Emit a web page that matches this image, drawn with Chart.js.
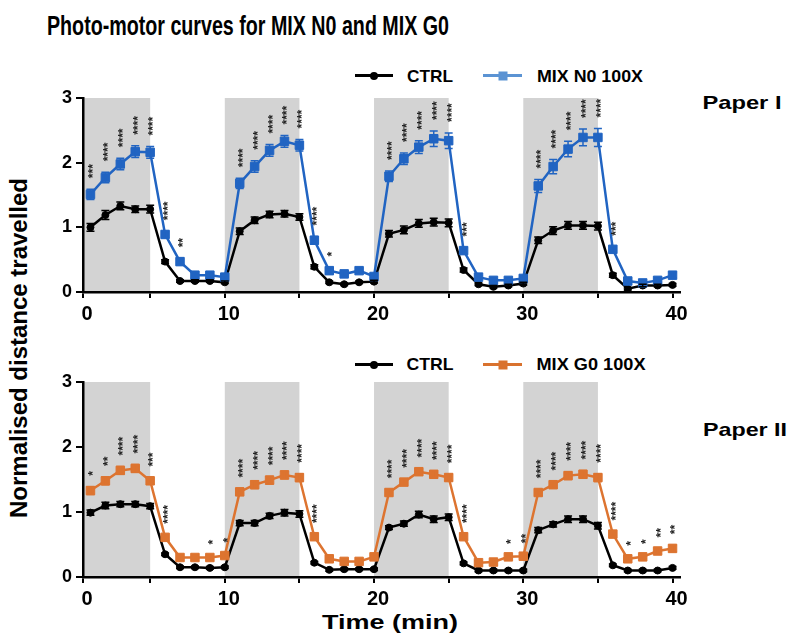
<!DOCTYPE html>
<html>
<head>
<meta charset="utf-8">
<script src="https://cdn.jsdelivr.net/npm/chart.js@4.4.1/dist/chart.umd.min.js"></script>
<style>
  body { margin: 0; background: #fff; font-family: "Liberation Sans", Arial, sans-serif; }
  #wrap { position: relative; width: 789px; height: 636px; overflow: hidden; }
  canvas { position: absolute; left: 0; }
  .txt { position: absolute; font-weight: bold; white-space: nowrap; line-height: 1; color: #000; }
  .legLine { position: absolute; height: 3px; }
  .legLine span { position: absolute; left: 50%; top: 50%; transform: translate(-50%, -50%); }
  .dot { width: 8px; height: 8px; border-radius: 50%; }
  .sq { width: 9px; height: 9px; }
</style>
</head>
<body>
<div id="wrap">
  <div class="txt fit" data-w="402" data-cx="248" data-cy="26" style="font-size:27px">Photo-motor curves for MIX N0 and MIX G0</div>

  <div class="legLine" style="left:355px;top:74px;width:38px;background:#000"><span class="dot" style="background:#000"></span></div>
  <div class="txt fit" data-w="46" data-cx="430" data-cy="76" style="font-size:17px">CTRL</div>
  <div class="legLine" style="left:483px;top:74px;width:39px;background:#5b93d3"><span class="sq" style="background:#5b93d3"></span></div>
  <div class="txt fit" data-w="106" data-cx="590" data-cy="76" style="font-size:17px">MIX N0 100X</div>

  <div class="legLine" style="left:355px;top:363px;width:38px;background:#000"><span class="dot" style="background:#000"></span></div>
  <div class="txt fit" data-w="47" data-cx="430" data-cy="364" style="font-size:17px">CTRL</div>
  <div class="legLine" style="left:483px;top:363px;width:39px;background:#d9722e"><span class="sq" style="background:#d9722e"></span></div>
  <div class="txt fit" data-w="109" data-cx="591" data-cy="364" style="font-size:17px">MIX G0 100X</div>

  <div class="txt fit" data-w="79" data-cx="742" data-cy="102" style="font-size:19px">Paper I</div>
  <div class="txt fit" data-w="84" data-cx="745" data-cy="429" style="font-size:19px">Paper II</div>

  <div class="txt fit" data-w="340" data-cx="19" data-cy="348" data-rot="1" style="font-size:23px">Normalised distance travelled</div>
  <div class="txt fit" data-w="136" data-cx="390" data-cy="622" style="font-size:20px">Time (min)</div>

  <canvas id="chartN0" width="700" height="244" style="top:80px"></canvas>
  <canvas id="chartG0" width="700" height="245" style="top:364px"></canvas>
</div>
<script>
// time points (min)
const times = [1, 2, 3, 4, 5, 6, 7, 8, 9, 10, 11, 12, 13, 14, 15, 16, 17, 18, 19, 20,
               21, 22, 23, 24, 25, 26, 27, 28, 29, 30, 31, 32, 33, 34, 35, 36, 37, 38, 39, 40];
// light-on periods (grey bands)
const lightPeriods = [[0, 5], [10, 15], [20, 25], [30, 35]];
const xTickValues = [0.5, 5, 10, 15, 20, 25, 30, 35, 40];
const xTickLabels = ['0', '', '10', '', '20', '', '30', '', '40'];
const yTickValues = [0, 1, 2, 3];

// Paper I : CTRL vs MIX N0 100X
const ctrlN0 = [1.00, 1.19, 1.33, 1.28, 1.28, 0.47, 0.17, 0.17, 0.17, 0.15,
                0.94, 1.11, 1.20, 1.21, 1.16, 0.39, 0.15, 0.12, 0.15, 0.16,
                0.90, 0.96, 1.06, 1.08, 1.07, 0.34, 0.12, 0.08, 0.10, 0.13,
                0.80, 0.95, 1.03, 1.03, 1.02, 0.26, 0.05, 0.10, 0.10, 0.11];
const ctrlN0Err = [0.06, 0.07, 0.06, 0.05, 0.06, 0.03, 0.02, 0.02, 0.02, 0.02,
                   0.05, 0.05, 0.05, 0.05, 0.05, 0.03, 0.02, 0.02, 0.02, 0.02,
                   0.05, 0.06, 0.06, 0.06, 0.06, 0.03, 0.02, 0.02, 0.02, 0.02,
                   0.05, 0.06, 0.06, 0.06, 0.06, 0.03, 0.02, 0.02, 0.02, 0.02];
const mixN0 = [1.51, 1.77, 1.98, 2.17, 2.16, 0.89, 0.47, 0.26, 0.26, 0.23,
               1.68, 1.94, 2.19, 2.33, 2.27, 0.80, 0.33, 0.28, 0.33, 0.24,
               1.79, 2.06, 2.24, 2.37, 2.34, 0.64, 0.23, 0.18, 0.18, 0.21,
               1.64, 1.94, 2.21, 2.39, 2.39, 0.66, 0.17, 0.14, 0.18, 0.26];
const mixN0Err = [0.08, 0.08, 0.09, 0.09, 0.09, 0.05, 0.05, 0.04, 0.04, 0.03,
                  0.08, 0.09, 0.09, 0.09, 0.09, 0.06, 0.05, 0.04, 0.04, 0.03,
                  0.08, 0.09, 0.10, 0.12, 0.12, 0.05, 0.03, 0.03, 0.03, 0.03,
                  0.10, 0.11, 0.12, 0.13, 0.14, 0.04, 0.03, 0.03, 0.03, 0.04];
const starsN0 = ['***', '****', '****', '****', '****', '****', '**', '', '', '',
                 '****', '****', '****', '****', '****', '****', '*', '', '', '',
                 '****', '****', '****', '****', '****', '***', '', '', '', '',
                 '****', '****', '****', '****', '****', '***', '', '', '', ''];

// Paper II : CTRL vs MIX G0 100X
const ctrlG0 = [0.99, 1.10, 1.12, 1.12, 1.09, 0.35, 0.15, 0.15, 0.14, 0.15,
                0.83, 0.83, 0.94, 0.99, 0.97, 0.22, 0.11, 0.12, 0.12, 0.12,
                0.76, 0.82, 0.96, 0.89, 0.92, 0.21, 0.10, 0.10, 0.10, 0.10,
                0.72, 0.81, 0.89, 0.89, 0.79, 0.18, 0.10, 0.10, 0.10, 0.14];
const ctrlG0Err = [0.04, 0.05, 0.04, 0.04, 0.04, 0.02, 0.02, 0.02, 0.02, 0.02,
                   0.04, 0.04, 0.04, 0.05, 0.05, 0.02, 0.02, 0.02, 0.02, 0.02,
                   0.03, 0.04, 0.05, 0.05, 0.05, 0.02, 0.02, 0.02, 0.02, 0.02,
                   0.04, 0.04, 0.05, 0.05, 0.05, 0.02, 0.02, 0.02, 0.02, 0.02];
const mixG0 = [1.33, 1.48, 1.64, 1.67, 1.48, 0.61, 0.30, 0.30, 0.30, 0.33,
               1.31, 1.42, 1.49, 1.57, 1.53, 0.62, 0.28, 0.24, 0.24, 0.31,
               1.30, 1.46, 1.62, 1.58, 1.53, 0.62, 0.22, 0.23, 0.31, 0.32,
               1.30, 1.42, 1.56, 1.58, 1.53, 0.66, 0.28, 0.31, 0.40, 0.44];
const mixG0Err = [0.06, 0.06, 0.06, 0.06, 0.05, 0.04, 0.03, 0.03, 0.03, 0.03,
                  0.05, 0.06, 0.06, 0.06, 0.06, 0.04, 0.03, 0.03, 0.03, 0.03,
                  0.05, 0.05, 0.05, 0.05, 0.05, 0.04, 0.03, 0.03, 0.03, 0.03,
                  0.05, 0.05, 0.06, 0.06, 0.06, 0.04, 0.03, 0.03, 0.04, 0.05];
const starsG0 = ['*', '**', '****', '****', '***', '****', '', '', '*', '*',
                 '****', '****', '****', '****', '****', '****', '', '', '', '',
                 '****', '****', '****', '****', '****', '****', '', '', '*', '**',
                 '****', '****', '****', '****', '****', '****', '*', '*', '**', '**'];

// size / scale the html texts to the reference widths
document.querySelectorAll('.fit').forEach(el => {
  const w = el.getBoundingClientRect().width;
  const s = +el.dataset.w / w;
  el.style.left = el.dataset.cx + 'px';
  el.style.top = el.dataset.cy + 'px';
  const rot = el.dataset.rot ? ' rotate(-90deg)' : '';
  el.style.transform = `translate(-50%, -50%)${rot} scaleX(${s})`;
});

const bandPlugin = {
  id: 'bands',
  beforeDraw(chart) {
    const { ctx, chartArea: a, scales: { x } } = chart;
    ctx.save();
    ctx.fillStyle = '#d3d3d3';
    lightPeriods.forEach(([s, e]) => {
      const x0 = Math.max(x.getPixelForValue(s), a.left);
      const x1 = Math.min(x.getPixelForValue(e), a.right);
      ctx.fillRect(x0, a.top, x1 - x0, a.bottom - a.top);
    });
    ctx.restore();
  }
};

const errorPlugin = {
  id: 'errorBars',
  afterDatasetsDraw(chart) {
    const { ctx, scales: { x, y } } = chart;
    chart.data.datasets.forEach(ds => {
      ctx.save();
      ctx.strokeStyle = ds.borderColor;
      ctx.lineWidth = 1.5;
      ds.data.forEach((p, j) => {
        const px = x.getPixelForValue(p.x);
        const yt = y.getPixelForValue(p.y + ds.errors[j]);
        const yb = y.getPixelForValue(p.y - ds.errors[j]);
        ctx.beginPath();
        ctx.moveTo(px, yt); ctx.lineTo(px, yb);
        ctx.moveTo(px - 4, yt); ctx.lineTo(px + 4, yt);
        ctx.moveTo(px - 4, yb); ctx.lineTo(px + 4, yb);
        ctx.stroke();
      });
      ctx.restore();
    });
  }
};

// significance stars, vertical, above the highest error bar
const starPlugin = {
  id: 'stars',
  afterDatasetsDraw(chart, args, opts) {
    const { ctx, scales: { x, y } } = chart;
    const fs = 12;
    ctx.save();
    ctx.fillStyle = '#222';
    ctx.font = `bold ${fs}px "Liberation Sans"`;
    ctx.textAlign = 'left';
    ctx.textBaseline = 'alphabetic';
    opts.labels.forEach((lab, j) => {
      if (!lab) return;
      let top = 0;
      chart.data.datasets.forEach(ds => {
        top = Math.max(top, ds.data[j].y + ds.errors[j]);
      });
      const px = x.getPixelForValue(times[j]);
      const py = y.getPixelForValue(top) - 11;
      ctx.save();
      ctx.translate(px, py);
      ctx.rotate(-Math.PI / 2);
      ctx.fillText(lab, 0, 0.58 * fs);
      ctx.restore();
    });
    ctx.restore();
  }
};

function series(label, vals, errs, color, style, radius) {
  return {
    label: label,
    data: times.map((t, i) => ({ x: t, y: vals[i] })),
    errors: errs,
    borderColor: color,
    backgroundColor: color,
    pointBackgroundColor: color,
    pointBorderColor: color,
    pointBorderWidth: 1,
    pointStyle: style,
    pointRadius: radius,
    borderWidth: 2.5,
    tension: 0
  };
}

const tickFontY = { family: 'Liberation Sans', size: 18, weight: 'bold' };
const tickFontX = { family: 'Liberation Sans', size: 20, weight: 'bold' };

function makePanel(id, ctrl, ctrlErr, mix, mixErr, mixName, mixColor, stars) {
  return new Chart(document.getElementById(id), {
    type: 'line',
    data: {
      datasets: [
        series(mixName, mix, mixErr, mixColor, 'rect', 6),
        series('CTRL', ctrl, ctrlErr, '#000000', 'circle', 3.5)
      ]
    },
    options: {
      responsive: false,
      animation: false,
      layout: { padding: { top: 18, right: 20, left: 0, bottom: 0 } },
      plugins: {
        legend: { display: false },
        tooltip: { enabled: false },
        stars: { labels: stars }
      },
      scales: {
        x: {
          type: 'linear', min: 0.5, max: 40.5,
          afterBuildTicks: s => { s.ticks = xTickValues.map(v => ({ value: v })); },
          afterFit: s => { s.height = 32; },
          ticks: {
            autoSkip: false, maxRotation: 0, padding: 4, labelOffset: 4,
            color: '#000', font: tickFontX,
            callback: v => xTickLabels[xTickValues.indexOf(v)]
          },
          grid: { drawOnChartArea: false, tickLength: 6, color: '#000', lineWidth: 2 },
          border: { color: '#000', width: 2.5 }
        },
        y: {
          min: 0, max: 3,
          afterBuildTicks: s => { s.ticks = yTickValues.map(v => ({ value: v })); },
          afterFit: s => { s.width = 83; },
          ticks: { padding: 4, color: '#000', font: tickFontY },
          grid: { drawOnChartArea: false, tickLength: 7, color: '#000', lineWidth: 2 },
          border: { color: '#000', width: 2.5 }
        }
      }
    },
    plugins: [bandPlugin, errorPlugin, starPlugin]
  });
}

makePanel('chartN0', ctrlN0, ctrlN0Err, mixN0, mixN0Err, 'MIX N0 100X', '#2164c2', starsN0);
makePanel('chartG0', ctrlG0, ctrlG0Err, mixG0, mixG0Err, 'MIX G0 100X', '#dd7430', starsG0);
</script>
</body>
</html>
